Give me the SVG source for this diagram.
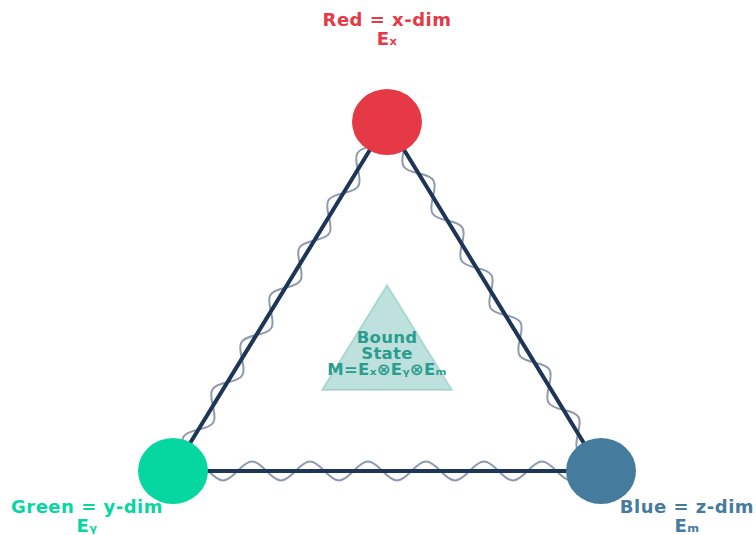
<svg xmlns="http://www.w3.org/2000/svg" width="756" height="535" viewBox="0 0 756 535">
  <style>
    .edge { stroke: #1d3557; stroke-width: 4; fill: none; stroke-linecap: round; }
    .wave { stroke: #8d99ae; stroke-width: 2; fill: none; stroke-linejoin: round; }
    .lbl { font-family: "DejaVu Sans", "Liberation Sans", sans-serif; font-weight: bold; text-anchor: middle; letter-spacing: 0.5px; }
    .big { font-size: 18px; }
    .core { font-size: 16.5px; fill: #2a9d8f; letter-spacing: 0.3px; }
  </style>
  <defs>
    <!-- sine strip along local x: half-period 27.74, amplitude 9 -->
    <path id="slantWave" d="M0,0 c11.77,-12 15.97,-12 27.74,0 s15.97,12 27.74,0 s15.97,-12 27.74,0 s15.97,12 27.74,0 s15.97,-12 27.74,0 s15.97,12 27.74,0 s15.97,-12 27.74,0 s15.97,12 27.74,0 s15.97,-12 27.74,0 s15.97,12 27.74,0 s15.97,-12 27.74,0 s15.97,12 27.74,0 s15.97,-12 27.74,0 s15.97,12 27.74,0 s15.97,-12 27.74,0"/>
  </defs>

  <!-- central bound-state marker -->
  <g id="bound-state">
    <polygon points="387,285 322,390 452,390" fill="#2a9d8f" fill-opacity="0.3" stroke="#2a9d8f" stroke-opacity="0.25" stroke-width="2"/>
    <text class="lbl core" x="387" y="343">Bound</text>
    <text class="lbl core" x="387" y="359">State</text>
    <text class="lbl core" x="387" y="375">M=Eₓ⊗Eᵧ⊗Eₘ</text>
  </g>

  <!-- connectors: rigid sides with gluon-like waves -->
  <g id="connectors">
    <use href="#slantWave" class="wave" transform="translate(173,471) rotate(-58.48) translate(20.8,0)"/>
    <use href="#slantWave" class="wave" transform="translate(387,122) rotate(58.48) translate(4.7,0)"/>
    <path class="wave" d="M179.5,471 c12.31,-12.67 16.69,-12.67 29,0 s16.69,12.67 29,0 s16.69,-12.67 29,0 s16.69,12.67 29,0 s16.69,-12.67 29,0 s16.69,12.67 29,0 s16.69,-12.67 29,0 s16.69,12.67 29,0 s16.69,-12.67 29,0 s16.69,12.67 29,0 s16.69,-12.67 29,0 s16.69,12.67 29,0 s16.69,-12.67 29,0 s16.69,12.67 29,0 s16.69,-12.67 29,0"/>
    <line class="edge" x1="387" y1="122" x2="173" y2="471"/>
    <line class="edge" x1="387" y1="122" x2="601" y2="471"/>
    <line class="edge" x1="173" y1="471" x2="601" y2="471"/>
  </g>

  <g id="red">
    <ellipse cx="387" cy="122" rx="35" ry="33" fill="#e63946"/>
    <text class="lbl big" x="387" y="26" fill="#e63946">Red = x-dim</text>
    <text class="lbl big" x="387" y="45" fill="#e63946">Eₓ</text>
  </g>

  <g id="green">
    <ellipse cx="173" cy="471" rx="35" ry="33" fill="#06d6a0"/>
    <text class="lbl big" x="87" y="513" fill="#06d6a0">Green = y-dim</text>
    <text class="lbl big" x="87" y="532" fill="#06d6a0">Eᵧ</text>
  </g>

  <g id="blue">
    <ellipse cx="601" cy="471" rx="35" ry="33" fill="#457b9d"/>
    <text class="lbl big" x="687" y="513" fill="#457b9d">Blue = z-dim</text>
    <text class="lbl big" x="687" y="532" fill="#457b9d">Eₘ</text>
  </g>
</svg>
